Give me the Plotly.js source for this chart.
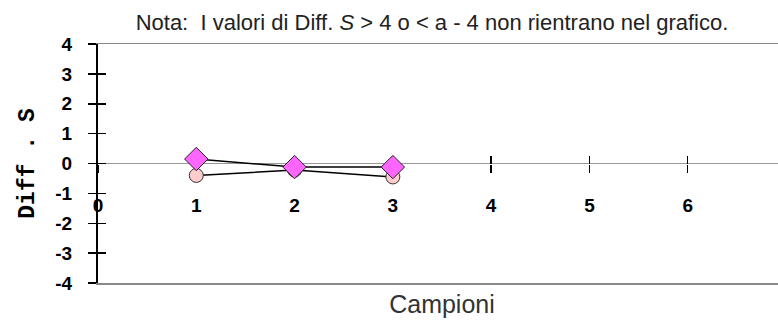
<!DOCTYPE html>
<html>
<head>
<meta charset="utf-8">
<script src="https://cdn.plot.ly/plotly-3.0.1.min.js"></script>
<style>
  html, body { margin: 0; padding: 0; overflow: hidden; background: #fff; }
  #chart { width: 800px; height: 320px; }
</style>
</head>
<body>
<div id="chart"></div>
<script>
// samples and the two Diff. S series
const campioni = [1, 2, 3];
const serieRombi = [0.15, -0.12, -0.12];
const serieCerchi = [-0.4, -0.22, -0.45];

const xTicks = [0, 1, 2, 3, 4, 5, 6, 7];
const yTicks = [-4, -3, -2, -1, 0, 1, 2, 3, 4];
const yLabels = ['-4', '-3', '-2', '-1', '0', '1', '2', '3', '4'];

const boldFont = { family: 'Arial, "Liberation Sans", sans-serif', size: 19, color: '#000', weight: 'bold' };

// pink circles (drawn first, under the diamonds)
const traceCerchi = {
  x: campioni,
  y: serieCerchi,
  mode: 'lines+markers',
  line: { color: '#000', width: 1.5 },
  marker: { symbol: 'circle', size: 14, color: '#FFCCCC', line: { color: '#333', width: 1 } },
  xaxis: 'x',
  yaxis: 'y',
  hoverinfo: 'skip'
};

// magenta diamonds
const traceRombi = {
  x: campioni,
  y: serieRombi,
  mode: 'lines+markers',
  line: { color: '#000', width: 1.5 },
  marker: { symbol: 'diamond', size: 18, color: '#FF66FF', line: { color: '#222', width: 1 } },
  xaxis: 'x',
  yaxis: 'y',
  hoverinfo: 'skip'
};

// empty traces so the helper axes get drawn
const helpers = [
  { x: [], y: [], xaxis: 'x2', yaxis: 'y', mode: 'markers' },
  { x: [], y: [], xaxis: 'x3', yaxis: 'y', mode: 'markers' },
  { x: [], y: [], xaxis: 'x', yaxis: 'y2', mode: 'markers' }
];

const layout = {
  width: 800,
  height: 320,
  margin: { l: 98, r: 14, t: 44, b: 37 },
  paper_bgcolor: '#fff',
  plot_bgcolor: '#fff',
  showlegend: false,
  title: {
    text: 'Nota:  I valori di Diff. <i>S</i> &gt; 4 o &lt; a - 4 non rientrano nel grafico.',
    font: { family: 'Arial, "Liberation Sans", sans-serif', size: 22, color: '#222' },
    x: 0.54,
    xanchor: 'center',
    y: 0.93,
    yanchor: 'middle'
  },
  // main x axis sits on y = 0, ticks cross the line
  xaxis: {
    range: [0, 7],
    anchor: 'free',
    position: 0.5,
    tickvals: xTicks,
    ticks: 'outside',
    ticklen: 8,
    tickcolor: '#000',
    tickwidth: 1.5,
    showline: false,
    showgrid: false,
    zeroline: false,
    layer: 'below traces',
    tickfont: boldFont,
    ticklabelstandoff: 17
  },
  xaxis2: {
    range: [0, 7],
    overlaying: 'x',
    anchor: 'free',
    position: 0.5,
    tickvals: xTicks,
    ticks: 'inside',
    ticklen: 8,
    tickcolor: '#000',
    tickwidth: 1.5,
    showticklabels: false,
    showline: false,
    showgrid: false,
    zeroline: false,
    layer: 'below traces'
  },
  // frame lines top/bottom plus the axis title
  xaxis3: {
    range: [0, 7],
    overlaying: 'x',
    anchor: 'y',
    side: 'bottom',
    showline: true,
    mirror: true,
    linecolor: '#888',
    linewidth: 1.5,
    ticks: '',
    showticklabels: false,
    showgrid: false,
    zeroline: false,
    layer: 'below traces',
    title: {
      text: 'Campioni',
      font: { family: 'Arial, "Liberation Sans", sans-serif', size: 25, color: '#333' },
      standoff: 12
    }
  },
  yaxis: {
    range: [-4, 4],
    tickvals: yTicks,
    ticktext: yLabels,
    ticks: 'outside',
    ticklen: 8,
    tickcolor: '#000',
    tickwidth: 1.5,
    showline: true,
    linecolor: '#000',
    linewidth: 2,
    showgrid: false,
    zeroline: true,
    zerolinecolor: '#999',
    zerolinewidth: 1.5,
    layer: 'below traces',
    tickfont: boldFont,
    ticklabelstandoff: 12,
    title: {
      text: 'Diff . S',
      font: { family: '"Liberation Mono", monospace', size: 23, color: '#000', weight: 'bold' },
      standoff: 14
    }
  },
  yaxis2: {
    range: [-4, 4],
    overlaying: 'y',
    anchor: 'x',
    side: 'left',
    tickvals: yTicks,
    ticks: 'inside',
    ticklen: 8,
    tickcolor: '#000',
    tickwidth: 1.5,
    showticklabels: false,
    showline: false,
    showgrid: false,
    zeroline: false,
    layer: 'below traces'
  }
};

Plotly.newPlot('chart', helpers.concat([traceCerchi, traceRombi]), layout, { staticPlot: true });
</script>
</body>
</html>
